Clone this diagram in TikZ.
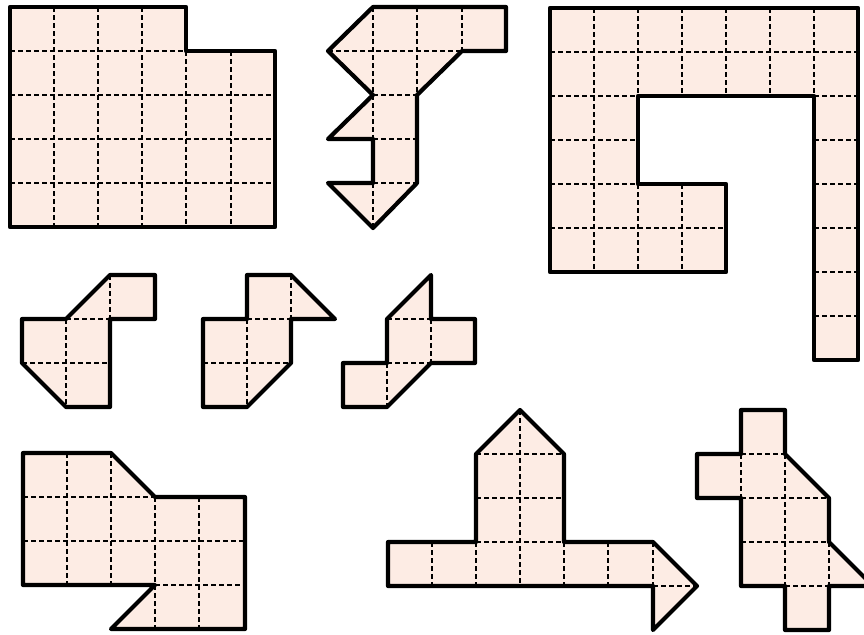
\documentclass[tikz,border=0pt]{standalone}
\definecolor{piecefill}{RGB}{253,236,228}
\newcommand\drawpiece[2]{%
  \fill[piecefill] #1;
  \draw[gridline] #2;
  \draw[edgeline] #1;}
\begin{document}
\begin{tikzpicture}[x=0.5pt,y=-0.5pt,
  edgeline/.style={draw=black,line width=2.1pt,line join=round,line cap=round},
  gridline/.style={draw=black,line width=1.1pt,dash pattern=on 2.4pt off 1.6pt}]
\useasboundingbox (0,0) rectangle (864,634);
\clip (0,0) rectangle (864,634);
% shape 1
\drawpiece{(10,7) -- (186,7) -- (186,51) -- (275,51) -- (275,227) -- (10,227) -- cycle}
 {(54,7)--(54,227) (98,7)--(98,227) (142,7)--(142,227) (186,51)--(186,227) (231,51)--(231,227)
  (10,51)--(186,51) (10,95)--(275,95) (10,139)--(275,139) (10,183)--(275,183)}
% shape 2
\drawpiece{(373,7) -- (506,7) -- (506,51) -- (462,51) -- (417,95) -- (417,183) -- (373,228) -- (328,183) -- (373,183) -- (373,139) -- (328,139) -- (373,95) -- (328,51) -- cycle}
 {(328,51)--(462,51) (373,7)--(373,139) (373,183)--(373,228) (417,7)--(417,95) (462,7)--(462,51)
  (373,95)--(417,95) (373,139)--(417,139) (373,183)--(417,183)}
% shape 3
\drawpiece{(550,8) -- (858,8) -- (858,360) -- (814,360) -- (814,96) -- (638,96) -- (638,184) -- (726,184) -- (726,272) -- (550,272) -- cycle}
 {(550,52)--(858,52) (594,8)--(594,96) (638,8)--(638,96) (682,8)--(682,96) (726,8)--(726,96) (770,8)--(770,96) (814,8)--(814,96)
  (594,96)--(594,272) (550,96)--(638,96) (550,140)--(638,140) (550,184)--(638,184) (550,228)--(726,228)
  (638,184)--(638,272) (682,184)--(682,272)
  (814,96)--(858,96) (814,140)--(858,140) (814,184)--(858,184) (814,228)--(858,228) (814,272)--(858,272) (814,316)--(858,316)}
% shape 4
\drawpiece{(22,319) -- (66,319) -- (110,275) -- (155,275) -- (155,319) -- (110,319) -- (110,407) -- (66,407) -- (22,363) -- cycle}
 {(110,275)--(110,319) (66,319)--(110,319) (66,319)--(66,407) (22,363)--(110,363)}
% shape 5
\drawpiece{(247,275) -- (291,275) -- (335,319) -- (291,319) -- (291,363) -- (247,407) -- (203,407) -- (203,319) -- (247,319) -- cycle}
 {(291,275)--(291,319) (247,319)--(291,319) (247,319)--(247,407) (203,363)--(291,363)}
% shape 6
\drawpiece{(343,363) -- (387,363) -- (387,319) -- (431,275) -- (431,319) -- (475,319) -- (475,363) -- (431,363) -- (387,407) -- (343,407) -- cycle}
 {(387,319)--(431,319) (431,319)--(431,363) (387,363)--(431,363) (387,363)--(387,407)}
% shape 7
\drawpiece{(23,453) -- (111,453) -- (155,497) -- (245,497) -- (245,629) -- (111,629) -- (155,585) -- (23,585) -- cycle}
 {(67,453)--(67,585) (111,453)--(111,585) (155,497)--(155,629) (199,497)--(199,629)
  (23,497)--(155,497) (23,541)--(245,541) (155,585)--(245,585)}
% shape 8
\drawpiece{(388,542) -- (476,542) -- (476,454) -- (520,410) -- (564,454) -- (564,542) -- (653,542) -- (697,586) -- (653,630) -- (653,586) -- (388,586) -- cycle}
 {(476,454)--(564,454) (476,498)--(564,498) (476,542)--(564,542) (520,410)--(520,586)
  (432,542)--(432,586) (476,542)--(476,586) (564,542)--(564,586) (608,542)--(608,586) (653,542)--(653,586)
  (653,586)--(697,586)}
% shape 9
\drawpiece{(741,410) -- (785,410) -- (785,454) -- (829,498) -- (829,542) -- (873,586) -- (829,586) -- (829,630) -- (785,630) -- (785,586) -- (741,586) -- (741,498) -- (697,498) -- (697,454) -- (741,454) -- cycle}
 {(741,454)--(785,454) (741,454)--(741,498) (741,498)--(829,498) (785,454)--(785,586)
  (741,542)--(829,542) (785,586)--(873,586) (829,542)--(829,586)}
\end{tikzpicture}
\end{document}
